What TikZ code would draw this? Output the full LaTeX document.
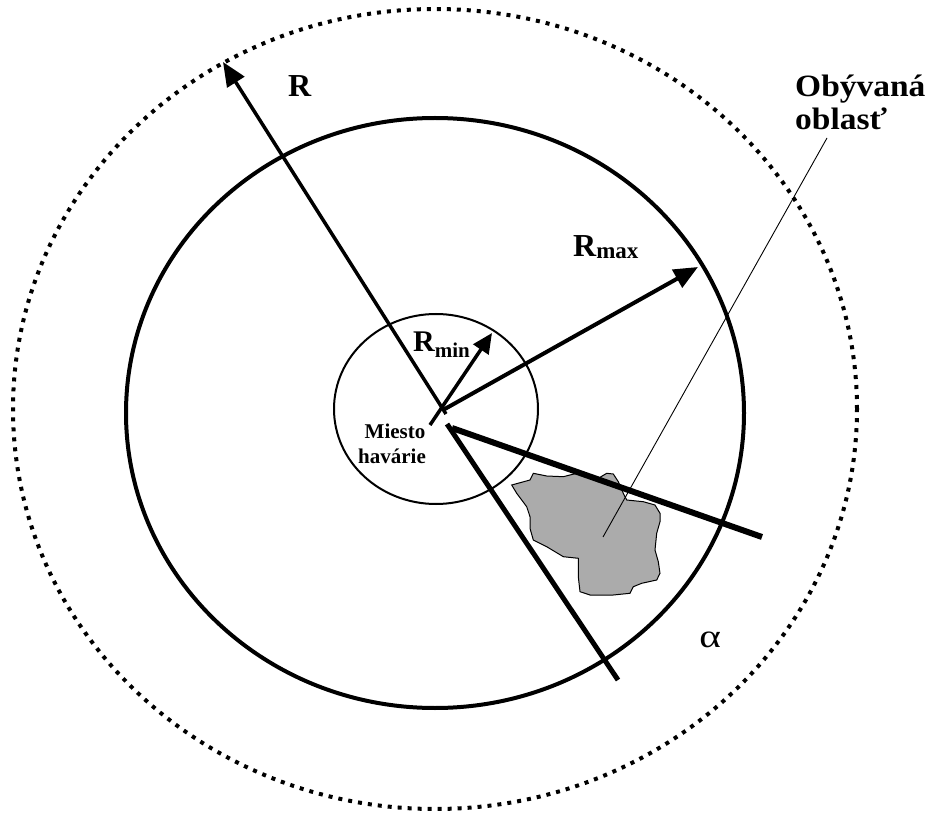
\documentclass[tikz,border=0pt]{standalone}
\usepackage{fontspec}
\setmainfont{Liberation Serif}
\usetikzlibrary{arrows.meta}
\begin{document}
\begin{tikzpicture}[x=1pt,y=-1pt,
  dotring/.style={line width=4pt, dash pattern=on 4pt off 6pt},
  thickring/.style={line width=4pt},
  thinring/.style={line width=2pt},
  radius arrow/.style={line width=#1, -{Triangle[length=24pt,width=20pt]}},
  rayline/.style={line width=#1},
  leader/.style={line width=0.9pt},
  blob/.style={fill=black!33, draw=black, line width=1pt},
  lbl/.style={anchor=base west, inner sep=0pt, font=\fontsize{32}{32}\selectfont\bfseries},
  smalllbl/.style={anchor=base, inner sep=0pt, font=\fontsize{21}{21}\selectfont\bfseries},
  arealbl/.style={anchor=base west, inner sep=0pt, xscale=1.08, font=\fontsize{31}{31}\selectfont\bfseries}
]
\useasboundingbox (0,0) rectangle (938,813);
% circles
\draw[dotring] (435,409) ellipse [x radius=422pt, y radius=400pt];
\draw[thickring] (435,413) ellipse [x radius=309pt, y radius=295pt];
\draw[thinring] (436,409) ellipse [x radius=102pt, y radius=95pt];
% inhabited area
\draw[blob] (511.7,485) -- (530,480) -- (533.3,473.3) -- (546.7,476) -- (563.3,476.7)
  -- (576.7,473.3) -- (590,476) -- (596.7,479.3) -- (606.7,473.3) -- (613.3,474)
  -- (618.3,481.7) -- (623.3,493.3) -- (626.7,500) -- (643.3,501.7) -- (655,505)
  -- (660,513.3) -- (660,521.7) -- (656.7,533.3) -- (655,550) -- (658.3,561.7)
  -- (660,573.3) -- (656.7,580) -- (641.7,583.3) -- (633.3,586.7) -- (630,593.3)
  -- (613.3,595) -- (590,595) -- (580,591.7) -- (578.3,576.7) -- (578.3,558.3)
  -- (563.3,556.7) -- (546.7,546.7) -- (533.3,540) -- (530,528.3) -- (530,516.7)
  -- (526.7,506.7) -- (516.7,493.3) -- cycle;
% named points
\coordinate (c) at (446,414);
\coordinate (rtip) at (223,62);
\coordinate (lowA) at (447,424);
\coordinate (lowB) at (618,680);
\coordinate (alA) at (452,428);
\coordinate (alB) at (762,537);
\coordinate (maxA) at (443,410);
\coordinate (maxB) at (698,267);
\coordinate (minA) at (430,425);
\coordinate (minB) at (492,333);
\coordinate (ldA) at (827,138);
\coordinate (ldB) at (603,537);
% rays and arrows
\draw[radius arrow=3.5pt] (c) -- (rtip);
\draw[rayline=5pt] (lowA) -- (lowB);
\draw[rayline=6pt] (alA) -- (alB);
\draw[radius arrow=4pt] (maxA) -- (maxB);
\draw[line width=3.5pt, -{Triangle[length=20pt,width=18pt]}] (minA) -- (minB);
\draw[leader] (ldA) -- (ldB);
% labels
\node[lbl] (tR) at (288,97) {R};
\node[lbl] (tRmax) at (573,257) {R\raisebox{-2pt}{\fontsize{23}{23}\selectfont max}};
\node[lbl, font=\fontsize{30}{30}\selectfont\bfseries] (tRmin) at (413,352) {R\raisebox{-6pt}{\fontsize{21}{21}\selectfont min}};
\node[smalllbl] (tM1) at (395,438) {Miesto};
\node[smalllbl] (tM2) at (392,463) {havárie};
\node[arealbl] (tO1) at (795,97) {Obývaná};
\node[arealbl] (tO2) at (795,130) {oblasť};
\node[anchor=base west, inner sep=0pt, xscale=1.25, font=\fontsize{33}{33}\selectfont] (tal) at (699,647) {α};
\end{tikzpicture}
\end{document}
